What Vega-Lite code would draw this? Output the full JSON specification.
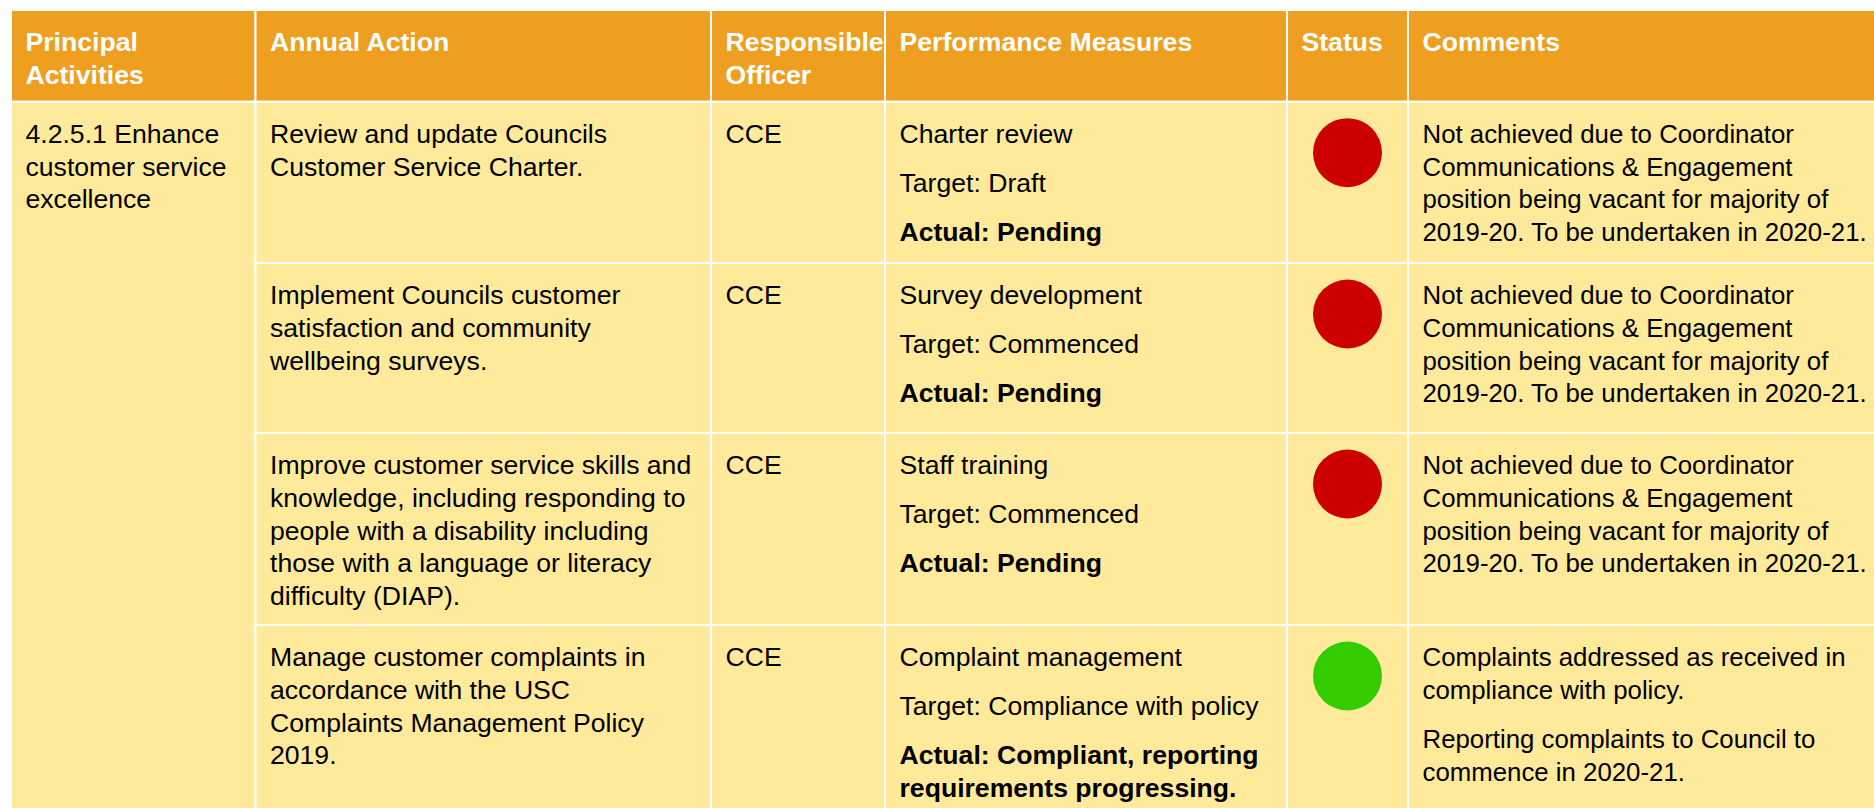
{
  "$schema": "https://vega.github.io/schema/vega-lite/v6.json",
  "width": 1874,
  "height": 808,
  "padding": 0,
  "autosize": {"type": "none"},
  "background": "#ffffff",
  "config": {"view": {"stroke": null}},
  "datasets": {
    "cells": [
      {"part": "header", "col": 0, "colEnd": 1, "row": 0, "rowEnd": 1},
      {"part": "header", "col": 1, "colEnd": 2, "row": 0, "rowEnd": 1},
      {"part": "header", "col": 2, "colEnd": 3, "row": 0, "rowEnd": 1},
      {"part": "header", "col": 3, "colEnd": 4, "row": 0, "rowEnd": 1},
      {"part": "header", "col": 4, "colEnd": 5, "row": 0, "rowEnd": 1},
      {"part": "header", "col": 5, "colEnd": 6, "row": 0, "rowEnd": 1},
      {"part": "body", "col": 0, "colEnd": 1, "row": 1, "rowEnd": 5},
      {"part": "body", "col": 1, "colEnd": 2, "row": 1, "rowEnd": 2},
      {"part": "body", "col": 2, "colEnd": 3, "row": 1, "rowEnd": 2},
      {"part": "body", "col": 3, "colEnd": 4, "row": 1, "rowEnd": 2},
      {"part": "body", "col": 4, "colEnd": 5, "row": 1, "rowEnd": 2},
      {"part": "body", "col": 5, "colEnd": 6, "row": 1, "rowEnd": 2},
      {"part": "body", "col": 1, "colEnd": 2, "row": 2, "rowEnd": 3},
      {"part": "body", "col": 2, "colEnd": 3, "row": 2, "rowEnd": 3},
      {"part": "body", "col": 3, "colEnd": 4, "row": 2, "rowEnd": 3},
      {"part": "body", "col": 4, "colEnd": 5, "row": 2, "rowEnd": 3},
      {"part": "body", "col": 5, "colEnd": 6, "row": 2, "rowEnd": 3},
      {"part": "body", "col": 1, "colEnd": 2, "row": 3, "rowEnd": 4},
      {"part": "body", "col": 2, "colEnd": 3, "row": 3, "rowEnd": 4},
      {"part": "body", "col": 3, "colEnd": 4, "row": 3, "rowEnd": 4},
      {"part": "body", "col": 4, "colEnd": 5, "row": 3, "rowEnd": 4},
      {"part": "body", "col": 5, "colEnd": 6, "row": 3, "rowEnd": 4},
      {"part": "body", "col": 1, "colEnd": 2, "row": 4, "rowEnd": 5},
      {"part": "body", "col": 2, "colEnd": 3, "row": 4, "rowEnd": 5},
      {"part": "body", "col": 3, "colEnd": 4, "row": 4, "rowEnd": 5},
      {"part": "body", "col": 4, "colEnd": 5, "row": 4, "rowEnd": 5},
      {"part": "body", "col": 5, "colEnd": 6, "row": 4, "rowEnd": 5}
    ],
    "lines": [
      {"part": "header", "row": 0, "col": 0, "line": 0, "text": "Principal"},
      {"part": "header", "row": 0, "col": 0, "line": 1, "text": "Activities"},
      {"part": "header", "row": 0, "col": 1, "line": 0, "text": "Annual Action"},
      {"part": "header", "row": 0, "col": 2, "line": 0, "text": "Responsible"},
      {"part": "header", "row": 0, "col": 2, "line": 1, "text": "Officer"},
      {"part": "header", "row": 0, "col": 3, "line": 0, "text": "Performance Measures"},
      {"part": "header", "row": 0, "col": 4, "line": 0, "text": "Status"},
      {"part": "header", "row": 0, "col": 5, "line": 0, "text": "Comments"},

      {"part": "cell", "row": 1, "col": 0, "line": 0, "text": "4.2.5.1 Enhance"},
      {"part": "cell", "row": 1, "col": 0, "line": 1, "text": "customer service"},
      {"part": "cell", "row": 1, "col": 0, "line": 2, "text": "excellence"},

      {"part": "cell", "row": 1, "col": 1, "line": 0, "text": "Review and update Councils"},
      {"part": "cell", "row": 1, "col": 1, "line": 1, "text": "Customer Service Charter."},
      {"part": "cell", "row": 1, "col": 2, "line": 0, "text": "CCE"},
      {"part": "cell", "row": 1, "col": 3, "line": 0, "text": "Charter review"},
      {"part": "cell", "row": 1, "col": 3, "line": 1.5, "text": "Target: Draft"},
      {"part": "actual", "row": 1, "col": 3, "line": 3, "text": "Actual: Pending"},
      {"part": "cell", "row": 1, "col": 5, "line": 0, "text": "Not achieved due to Coordinator"},
      {"part": "cell", "row": 1, "col": 5, "line": 1, "text": "Communications & Engagement"},
      {"part": "cell", "row": 1, "col": 5, "line": 2, "text": "position being vacant for majority of"},
      {"part": "cell", "row": 1, "col": 5, "line": 3, "text": "2019-20. To be undertaken in 2020-21."},

      {"part": "cell", "row": 2, "col": 1, "line": 0, "text": "Implement Councils customer"},
      {"part": "cell", "row": 2, "col": 1, "line": 1, "text": "satisfaction and community"},
      {"part": "cell", "row": 2, "col": 1, "line": 2, "text": "wellbeing surveys."},
      {"part": "cell", "row": 2, "col": 2, "line": 0, "text": "CCE"},
      {"part": "cell", "row": 2, "col": 3, "line": 0, "text": "Survey development"},
      {"part": "cell", "row": 2, "col": 3, "line": 1.5, "text": "Target: Commenced"},
      {"part": "actual", "row": 2, "col": 3, "line": 3, "text": "Actual: Pending"},
      {"part": "cell", "row": 2, "col": 5, "line": 0, "text": "Not achieved due to Coordinator"},
      {"part": "cell", "row": 2, "col": 5, "line": 1, "text": "Communications & Engagement"},
      {"part": "cell", "row": 2, "col": 5, "line": 2, "text": "position being vacant for majority of"},
      {"part": "cell", "row": 2, "col": 5, "line": 3, "text": "2019-20. To be undertaken in 2020-21."},

      {"part": "cell", "row": 3, "col": 1, "line": 0, "text": "Improve customer service skills and"},
      {"part": "cell", "row": 3, "col": 1, "line": 1, "text": "knowledge, including responding to"},
      {"part": "cell", "row": 3, "col": 1, "line": 2, "text": "people with a disability including"},
      {"part": "cell", "row": 3, "col": 1, "line": 3, "text": "those with a language or literacy"},
      {"part": "cell", "row": 3, "col": 1, "line": 4, "text": "difficulty (DIAP)."},
      {"part": "cell", "row": 3, "col": 2, "line": 0, "text": "CCE"},
      {"part": "cell", "row": 3, "col": 3, "line": 0, "text": "Staff training"},
      {"part": "cell", "row": 3, "col": 3, "line": 1.5, "text": "Target: Commenced"},
      {"part": "actual", "row": 3, "col": 3, "line": 3, "text": "Actual: Pending"},
      {"part": "cell", "row": 3, "col": 5, "line": 0, "text": "Not achieved due to Coordinator"},
      {"part": "cell", "row": 3, "col": 5, "line": 1, "text": "Communications & Engagement"},
      {"part": "cell", "row": 3, "col": 5, "line": 2, "text": "position being vacant for majority of"},
      {"part": "cell", "row": 3, "col": 5, "line": 3, "text": "2019-20. To be undertaken in 2020-21."},

      {"part": "cell", "row": 4, "col": 1, "line": 0, "text": "Manage customer complaints in"},
      {"part": "cell", "row": 4, "col": 1, "line": 1, "text": "accordance with the USC"},
      {"part": "cell", "row": 4, "col": 1, "line": 2, "text": "Complaints Management Policy"},
      {"part": "cell", "row": 4, "col": 1, "line": 3, "text": "2019."},
      {"part": "cell", "row": 4, "col": 2, "line": 0, "text": "CCE"},
      {"part": "cell", "row": 4, "col": 3, "line": 0, "text": "Complaint management"},
      {"part": "cell", "row": 4, "col": 3, "line": 1.5, "text": "Target: Compliance with policy"},
      {"part": "actual", "row": 4, "col": 3, "line": 3, "text": "Actual: Compliant, reporting"},
      {"part": "actual", "row": 4, "col": 3, "line": 4, "text": "requirements progressing."},
      {"part": "cell", "row": 4, "col": 5, "line": 0, "text": "Complaints addressed as received in"},
      {"part": "cell", "row": 4, "col": 5, "line": 1, "text": "compliance with policy."},
      {"part": "cell", "row": 4, "col": 5, "line": 2.5, "text": "Reporting complaints to Council to"},
      {"part": "cell", "row": 4, "col": 5, "line": 3.5, "text": "commence in 2020-21."}
    ],
    "status": [
      {"row": 1, "col": 4, "status": "Not achieved"},
      {"row": 2, "col": 4, "status": "Not achieved"},
      {"row": 3, "col": 4, "status": "Not achieved"},
      {"row": 4, "col": 4, "status": "Achieved"}
    ]
  },
  "layer": [
    {
      "data": {"name": "cells"},
      "mark": {"type": "rect", "stroke": "#ffffff", "strokeWidth": 2},
      "encoding": {
        "x": {"field": "col", "type": "quantitative", "axis": null,
              "scale": {"type": "linear", "domain": [0, 1, 2, 3, 4, 5, 6], "range": [11, 255.5, 711, 885, 1287, 1408, 1878], "nice": false, "zero": false}},
        "x2": {"field": "colEnd"},
        "y": {"field": "row", "type": "quantitative", "axis": null,
              "scale": {"type": "linear", "domain": [0, 1, 2, 3, 4, 5], "range": [10, 101.7, 263, 433, 625, 812], "nice": false, "zero": false}},
        "y2": {"field": "rowEnd"},
        "fill": {"field": "part", "type": "nominal", "legend": null,
                 "scale": {"domain": ["header", "body"], "range": ["#EF9F1F", "#FEEA9A"]}}
      }
    },
    {
      "data": {"name": "lines"},
      "transform": [{"filter": "datum.part === 'header'"}],
      "mark": {"type": "text", "align": "left", "baseline": "alphabetic", "dx": 14.5, "dy": 41, "theta": 3.141592653589793, "font": "Liberation Sans", "fontSize": 26.6, "fontWeight": "bold", "color": "#ffffff"},
      "encoding": {
        "x": {"field": "col", "type": "quantitative", "axis": null},
        "y": {"field": "row", "type": "quantitative", "axis": null},
        "radius": {"field": "line", "type": "quantitative", "scale": {"type": "linear", "domain": [0, 10], "range": [0, 328], "nice": false, "zero": false}},
        "text": {"field": "text"}
      }
    },
    {
      "data": {"name": "lines"},
      "transform": [{"filter": "datum.part === 'cell' && datum.col !== 5"}],
      "mark": {"type": "text", "align": "left", "baseline": "alphabetic", "dx": 14.5, "dy": 41, "theta": 3.141592653589793, "font": "Liberation Sans", "fontSize": 26.6, "color": "#000000"},
      "encoding": {
        "x": {"field": "col", "type": "quantitative", "axis": null},
        "y": {"field": "row", "type": "quantitative", "axis": null},
        "radius": {"field": "line", "type": "quantitative"},
        "text": {"field": "text"}
      }
    },
    {
      "data": {"name": "lines"},
      "transform": [{"filter": "datum.part === 'cell' && datum.col === 5"}],
      "mark": {"type": "text", "align": "left", "baseline": "alphabetic", "dx": 14.5, "dy": 41, "theta": 3.141592653589793, "font": "Liberation Sans", "fontSize": 25.8, "color": "#000000"},
      "encoding": {
        "x": {"field": "col", "type": "quantitative", "axis": null},
        "y": {"field": "row", "type": "quantitative", "axis": null},
        "radius": {"field": "line", "type": "quantitative"},
        "text": {"field": "text"}
      }
    },
    {
      "data": {"name": "lines"},
      "transform": [{"filter": "datum.part === 'actual'"}],
      "mark": {"type": "text", "align": "left", "baseline": "alphabetic", "dx": 14.5, "dy": 41, "theta": 3.141592653589793, "font": "Liberation Sans", "fontSize": 26.6, "fontWeight": "bold", "color": "#000000"},
      "encoding": {
        "x": {"field": "col", "type": "quantitative", "axis": null},
        "y": {"field": "row", "type": "quantitative", "axis": null},
        "radius": {"field": "line", "type": "quantitative"},
        "text": {"field": "text"}
      }
    },
    {
      "data": {"name": "status"},
      "mark": {"type": "point", "shape": "circle", "filled": true, "opacity": 1, "size": 4761, "xOffset": 60.5, "yOffset": 51},
      "encoding": {
        "x": {"field": "col", "type": "quantitative", "axis": null},
        "y": {"field": "row", "type": "quantitative", "axis": null},
        "color": {"field": "status", "type": "nominal", "legend": null,
                  "scale": {"domain": ["Not achieved", "Achieved"], "range": ["#CC0000", "#33CC00"]}}
      }
    }
  ]
}
